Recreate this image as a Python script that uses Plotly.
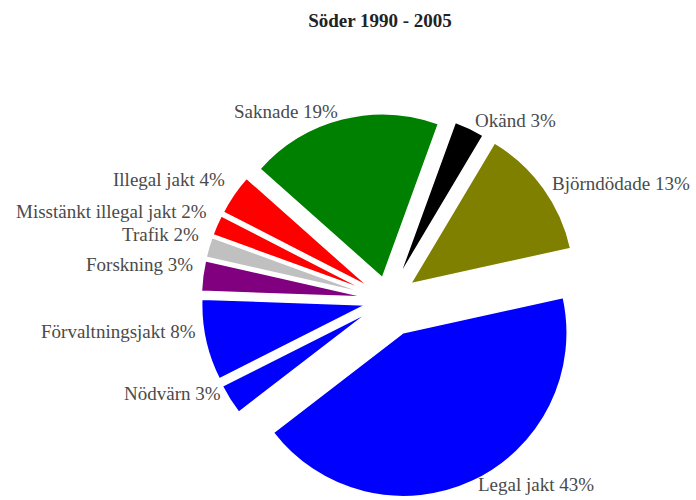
import math
import plotly.graph_objects as go

labels = ["Okänd", "Björndödade", "Legal jakt", "Nödvärn", "Förvaltningsjakt",
          "Forskning", "Trafik", "Misstänkt illegal jakt", "Illegal jakt", "Saknade"]
values = [3, 13, 43, 3, 8, 3, 2, 2, 4, 19]
colors = ["#000000", "#808000", "#0000ff", "#0000ff", "#0000ff",
          "#800080", "#c0c0c0", "#ff0000", "#ff0000", "#008000"]
pulls = [0.16, 0.17, 0.22, 0.14, 0.14, 0.14, 0.14, 0.14, 0.14, 0.14]

W, H = 696, 500
ROT = 20
DOM_X = [0.2, 0.915]
DOM_Y = [0.0, 0.8]

fig = go.Figure(go.Pie(
    labels=labels,
    values=values,
    sort=False,
    direction="clockwise",
    rotation=ROT,
    pull=pulls,
    marker=dict(colors=colors, line=dict(color="white", width=1.5)),
    textinfo="none",
    domain=dict(x=DOM_X, y=DOM_Y),
    showlegend=False,
    hoverinfo="label+percent",
))

# Outside labels placed at each slice's mid-angle (same geometry as the pie)
cx = W * (DOM_X[0] + DOM_X[1]) / 2
cy_top = H * (1 - DOM_Y[0]) - H * (DOM_Y[1] - DOM_Y[0]) / 2
R = min(W * (DOM_X[1] - DOM_X[0]), H * (DOM_Y[1] - DOM_Y[0])) / 2 / (1 + max(pulls))
total = sum(values)
cum = 0
annotations = []
for lab, v, p in zip(labels, values, pulls):
    mid = ROT + 360 * (cum + v / 2) / total
    cum += v
    a = math.radians(mid)
    d = R * (1 + p) + 8
    px = cx + d * math.sin(a)
    py = cy_top - d * math.cos(a)
    right_side = math.sin(a) >= 0
    left_lower = (not right_side) and math.cos(a) < 0.9
    pct = round(100 * v / total)
    annotations.append(dict(
        x=px / W, y=1 - py / H, xref="paper", yref="paper",
        text=f"{lab} {pct}%", showarrow=False,
        xanchor="left" if right_side else "right", yanchor="middle",
        yshift=10 if left_lower else (4 if math.cos(a) < -0.5 else 0),
        font=dict(family="Liberation Serif", size=19, color="#4a4a4a"),
    ))

fig.update_layout(
    width=W, height=H,
    margin=dict(l=0, r=0, t=0, b=0),
    paper_bgcolor="white",
    title=dict(text="<b>Söder 1990 - 2005</b>", x=0.546, xanchor="center", y=0.96, yanchor="middle",
               font=dict(family="Liberation Serif", size=19, color="#222222")),
    annotations=annotations,
)

fig.write_html("out.html")
